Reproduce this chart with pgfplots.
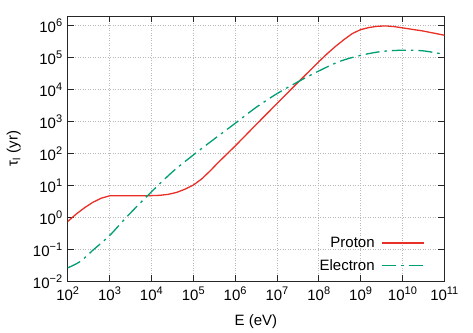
\documentclass[border=0pt]{standalone}
\usepackage{fontspec}
\setmainfont{Liberation Sans}
\usepackage{pgfplots}
\pgfplotsset{compat=1.18}
\definecolor{pred}{RGB}{232,48,38}
\definecolor{egreen}{RGB}{0,158,115}
\newcommand{\pw}[1]{10\raisebox{6pt}{\fontsize{11}{13}\selectfont #1}}

\begin{document}
\begin{tikzpicture}
\useasboundingbox (-67.7pt,-50.7pt) rectangle (405.3pt,281.3pt);
\begin{axis}[
  scale only axis,
  width=376.6pt, height=265.3pt,
  xmode=log, ymode=log,
  log basis x=10, log basis y=10,
  xmin=1e2, xmax=1e11,
  ymin=1e-2, ymax=2e6,
  axis line style={line width=0.9pt, black!85},
  xtick={1e2,1e3,1e4,1e5,1e6,1e7,1e8,1e9,1e10,1e11},
  xticklabels={\pw{2},\pw{3},\pw{4},\pw{5},\pw{6},\pw{7},\pw{8},\pw{9},\pw{10},\pw{11}},
  ytick={1e-2,1e-1,1e0,1e1,1e2,1e3,1e4,1e5,1e6},
  yticklabels={\pw{−2},\pw{−1},\pw{0},\pw{1},\pw{2},\pw{3},\pw{4},\pw{5},\pw{6}},
  tick label style={font=\fontsize{15}{17}\selectfont, black},
  xticklabel style={yshift=-2pt},
  yticklabel style={xshift=-2pt},
  major tick length=6pt, minor tick length=3pt,
  tick style={black!85, line width=0.6pt},
  grid=major,
  major grid style={gray!55, line width=0.6pt, dash pattern=on 1pt off 1.5pt},
  xlabel={E (eV)},
  ylabel={τ\textsubscript{l} (yr)},
  every axis x label/.style={at={(axis description cs:0.5,-0.153)}, anchor=center,
    font=\fontsize{15}{17}\selectfont},
  every axis y label/.style={at={(axis description cs:-0.143,0.5)}, rotate=90, anchor=center,
    font=\fontsize{15}{17}\selectfont},
  legend style={at={(0.957,0.02)}, anchor=south east, draw=none, fill=none,
    font=\fontsize{15}{17}\selectfont, row sep=6.5pt, column sep=5pt},
  legend cell align=right,
  legend plot pos=right,
  legend image code/.code={\draw[line width=1.3pt,#1] (0pt,0pt) -- (42pt,0pt);},
]
\addplot[pred, line width=1.3pt] coordinates {
(1e2,0.741) (1.585e2,1.259) (2.512e2,1.995) (3.981e2,2.951) (6.31e2,3.981) (1e3,4.73)
(1e4,4.79) (1.585e4,4.90) (2.512e4,5.25) (3.981e4,6.03) (6.31e4,7.59) (1e5,10.2)
(1.585e5,15.85) (2.512e5,28.2) (3.981e5,52.5) (1e6,170) (3.162e6,794) (1e7,3631)
(3.162e7,16600) (1e8,74130) (1.585e8,131800) (2.512e8,223900) (3.981e8,363100)
(6.31e8,562300) (1e9,749900) (1.585e9,871000) (2.512e9,955000) (3.981e9,977200)
(6.31e9,933300) (1e10,851100) (3.162e10,676100) (1e11,501200)
};
\addlegendentry{Proton}
\addplot[egreen, line width=1.3pt, smooth, dash pattern=on 14pt off 5pt on 2.5pt off 5pt] coordinates {
(1e2,0.0263) (1.995e2,0.0417) (3.981e2,0.0933) (1e3,0.269) (2.512e3,1.0) (7.943e3,4.68)
(3.162e4,26.3) (1e5,89.1) (3.162e5,282) (1e6,871) (3.162e6,2754) (1e7,7413)
(3.162e7,17380) (1e8,38020) (3.162e8,75860) (1e9,117500) (3.162e9,154900)
(1e10,169800) (3.162e10,162200) (1e11,125900)
};
\addlegendentry{Electron}
\end{axis}
\end{tikzpicture}
\end{document}
